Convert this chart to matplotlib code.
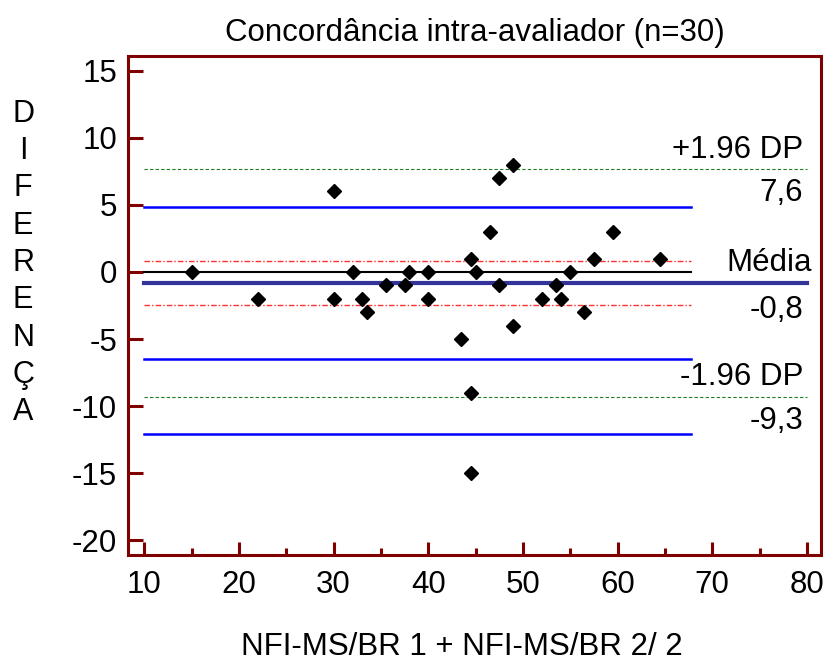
import numpy as np
import matplotlib
matplotlib.use("Agg")
import matplotlib.pyplot as plt
from matplotlib.ticker import MultipleLocator

plt.rcParams['font.family'] = ['Liberation Sans', 'DejaVu Sans']
plt.rcParams['axes.unicode_minus'] = False

# media das duas avaliacoes (x) e diferenca (y)
media = [15, 22, 30, 30, 32, 33, 33.5, 35.5, 37.5, 38,
         40, 40, 43.5, 44.5, 44.5, 44.5, 45, 46.5, 47.5, 47.5,
         49, 49, 52, 53.5, 54, 55, 56.5, 57.5, 59.5, 64.5]
diferenca = [0, -2, 6, -2, 0, -2, -3, -1, -1, 0,
             0, -2, -5, 1, -9, -15, 0, 3, 7, -1,
             8, -4, -2, -1, -2, 0, -3, 1, 3, 1]

titulo = "Concordância intra-avaliador (n=30)"
rotulo_x = "NFI-MS/BR 1 + NFI-MS/BR 2/ 2"
rotulo_y = "DIFERENÇA"

# estatisticas de Bland-Altman
d = np.array(diferenca)
n = len(d)
m = d.mean()
sd = d.std(ddof=1)
t = 2.045  # t(29; 0.975)
lim_sup = m + 1.96 * sd
lim_inf = m - 1.96 * sd
ic_m = t * sd / np.sqrt(n)
ic_lim = t * np.sqrt(3 * sd ** 2 / n)

fig = plt.figure(figsize=(8.25, 6.64), dpi=100)
ax = fig.add_axes([0.1552, 0.1642, 0.8400, 0.7515])

x0 = 10
x1 = 1.05 * max(media)
x2 = 80

verde = '#1f7f1f'
vermelho = '#ff3030'
ax.plot([x0, x1], [0, 0], color='black', lw=1.5, zorder=2)
ax.plot([x0, x2], [m, m], color='#333399', lw=3, zorder=2)
ax.plot([x0, x1], [m + ic_m, m + ic_m], color=vermelho, lw=1, ls=(0, (4, 1.5, 1, 1.5)))
ax.plot([x0, x1], [m - ic_m, m - ic_m], color=vermelho, lw=1, ls=(0, (4, 1.5, 1, 1.5)))
ax.plot([x0, x2], [lim_sup, lim_sup], color=verde, lw=0.8, ls=(0, (3, 2)))
ax.plot([x0, x2], [lim_inf, lim_inf], color=verde, lw=0.8, ls=(0, (3, 2)))
ax.plot([x0, x1], [lim_sup - ic_lim] * 2, color='#0000ff', lw=1.8)
ax.plot([x0, x1], [lim_inf + ic_lim] * 2, color='#0000ff', lw=1.8)
ax.plot([x0, x1], [lim_inf - ic_lim] * 2, color='#0000ff', lw=1.8)

ax.plot(media, diferenca, 'D', color='black', ms=7.5, zorder=3)

fs = 22.5

def rotulo(y, txt, dy, x=79.6):
    ax.annotate(txt, xy=(x, y), xytext=(0, dy), textcoords='offset points',
                ha='right', va='center', fontsize=fs)

fmt = lambda v: ("%.1f" % v).replace('.', ',')
rotulo(lim_sup, "+1.96 DP", 14)
rotulo(lim_sup, fmt(lim_sup), -17)
rotulo(m, "Média", 14.5, x=80.5)
rotulo(m, fmt(m), -19)
rotulo(lim_inf, "-1.96 DP", 14.5)
rotulo(lim_inf, fmt(lim_inf), -17.5)

ax.set_xlim(8.28, 81.5)
ax.set_ylim(-21.1, 16.1)
ax.xaxis.set_major_locator(MultipleLocator(10))
ax.xaxis.set_minor_locator(MultipleLocator(5))
ax.set_yticks(range(-20, 16, 5))

vinho = '#7f0000'
for s in ax.spines.values():
    s.set_color(vinho)
    s.set_linewidth(2.2)
ax.tick_params(axis='both', which='both', direction='in', colors=vinho,
               labelcolor='black', labelsize=fs, width=2.2)
ax.tick_params(axis='x', which='major', length=9.5, pad=11)
ax.tick_params(axis='x', which='minor', length=5)
ax.tick_params(axis='y', which='major', length=11, pad=8)
ax.tick_params(top=False, right=False)

ax.set_title(titulo, fontsize=fs, pad=11)
fig.text(0.56, 0.026, rotulo_x, ha='center', va='center', fontsize=fs)
fig.text(0.028, 0.604, "\n".join(rotulo_y), ha='center', va='center',
         fontsize=22, linespacing=1.32)

fig.savefig("out.png", dpi=100)
